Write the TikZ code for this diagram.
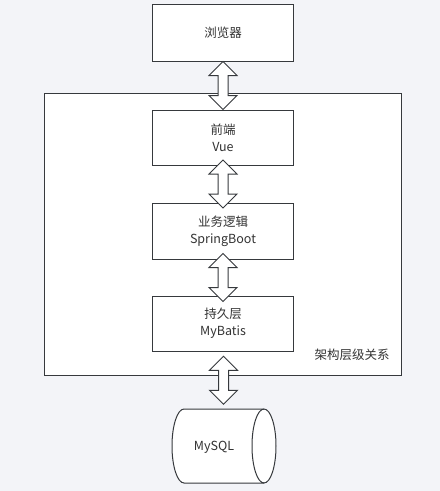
\documentclass[tikz,border=0pt]{standalone}
\usepackage{fontspec}
\setmainfont{Noto Sans CJK SC}
\usetikzlibrary{calc}
\definecolor{bg}{HTML}{F3F4F8}
\definecolor{ln}{HTML}{36393D}
\definecolor{tx}{HTML}{333333}
\newcommand\dblblockarrow[1]{%
  \draw[blockarrow] ($(#1)+(0,-24)$) -- ++(14,14) -- ++(-9,0) -- ++(0,20) -- ++(9,0)
    -- ++(-14,14) -- ++(-14,-14) -- ++(9,0) -- ++(0,-20) -- ++(-9,0) -- cycle;}
\begin{document}
\begin{tikzpicture}[x=1pt,y=-1pt,
  txt/.style={text=tx, font=\fontsize{12.5}{17}\selectfont, align=center, inner sep=0pt},
  box/.style={txt, draw=ln, line width=1pt, fill=white, minimum width=141pt, minimum height=56pt},
  blockarrow/.style={draw=ln, fill=white, line width=1pt, line join=miter}]
\useasboundingbox[fill=bg] (0,0) rectangle (440,491);
\node[draw=ln, line width=1pt, fill=white, minimum width=357pt, minimum height=282pt, inner sep=0pt] (outer) at (222.5,234) {};
\node[txt] (outerlabel) at (352,355) {架构层级关系};
\node[box, minimum height=57pt] (b1) at (223,32.5) {浏览器};
\node[box, minimum height=55pt] (b2) at (223,137.5) {前端\\Vue};
\node[box] (b3) at (223,231) {业务逻辑\\SpringBoot};
\node[box, minimum height=55pt] (b4) at (223,323.5) {持久层\\MyBatis};
% cylinder
\coordinate (cyltop) at (224,409);
\draw[draw=ln, line width=1pt, fill=white] (184,409) -- (264,409)
  arc[start angle=90, end angle=-90, x radius=12pt, y radius=37pt] -- (184,483)
  arc[start angle=270, end angle=90, x radius=12pt, y radius=37pt] -- cycle;
\draw[draw=ln, line width=1pt] (264,409) arc[start angle=90, end angle=270, x radius=12pt, y radius=37pt];
\node[txt] (db) at (214,447) {MySQL};
% block arrows
\coordinate (a1) at ($(b1.south)!0.5!(b2.north)$);
\coordinate (a2) at ($(b2.south)!0.5!(b3.north)$);
\coordinate (a3) at ($(b3.south)!0.5!(b4.north)$);
\coordinate (a4) at ($(b4.south)!0.5!(cyltop)$);
\dblblockarrow{a1}
\dblblockarrow{a2}
\dblblockarrow{a3}
\dblblockarrow{a4}
\end{tikzpicture}
\end{document}
